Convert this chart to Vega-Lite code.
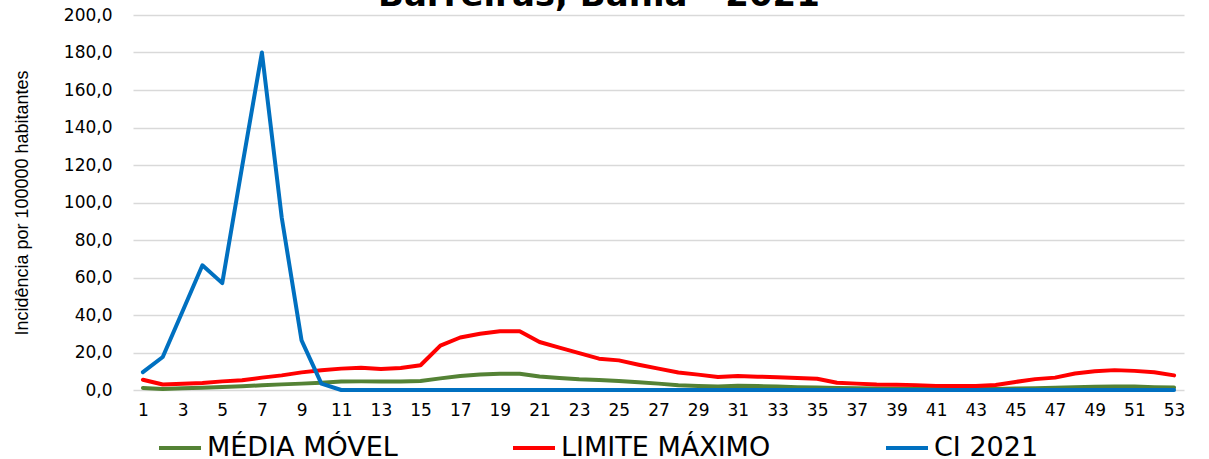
{
  "$schema": "https://vega.github.io/schema/vega-lite/v6.json",
  "width": 1051,
  "height": 375,
  "autosize": {"type": "none"},
  "padding": {"left": 133, "top": 15, "right": 25, "bottom": 69},
  "background": "white",
  "title": {
    "text": "Barreiras, Bahia - 2021",
    "font": "DejaVu Sans",
    "fontSize": 34,
    "fontWeight": "bold",
    "color": "#000000",
    "anchor": "middle",
    "frame": "bounds",
    "baseline": "alphabetic",
    "offset": -34
  },
  "config": {
    "locale": {"number": {"decimal": ",", "thousands": ".", "grouping": [3], "currency": ["R$", ""]}},
    "view": {"stroke": null}
  },
  "data": {
    "values": [
      {"semana": 1, "serie": "MÉDIA MÓVEL", "valor": 1.1},
      {"semana": 2, "serie": "MÉDIA MÓVEL", "valor": 0.5},
      {"semana": 3, "serie": "MÉDIA MÓVEL", "valor": 0.9},
      {"semana": 4, "serie": "MÉDIA MÓVEL", "valor": 1.2},
      {"semana": 5, "serie": "MÉDIA MÓVEL", "valor": 1.6},
      {"semana": 6, "serie": "MÉDIA MÓVEL", "valor": 2.0},
      {"semana": 7, "serie": "MÉDIA MÓVEL", "valor": 2.5},
      {"semana": 8, "serie": "MÉDIA MÓVEL", "valor": 3.0},
      {"semana": 9, "serie": "MÉDIA MÓVEL", "valor": 3.4},
      {"semana": 10, "serie": "MÉDIA MÓVEL", "valor": 3.9},
      {"semana": 11, "serie": "MÉDIA MÓVEL", "valor": 4.5},
      {"semana": 12, "serie": "MÉDIA MÓVEL", "valor": 4.6},
      {"semana": 13, "serie": "MÉDIA MÓVEL", "valor": 4.6},
      {"semana": 14, "serie": "MÉDIA MÓVEL", "valor": 4.6},
      {"semana": 15, "serie": "MÉDIA MÓVEL", "valor": 4.8},
      {"semana": 16, "serie": "MÉDIA MÓVEL", "valor": 6.2},
      {"semana": 17, "serie": "MÉDIA MÓVEL", "valor": 7.5},
      {"semana": 18, "serie": "MÉDIA MÓVEL", "valor": 8.3},
      {"semana": 19, "serie": "MÉDIA MÓVEL", "valor": 8.7},
      {"semana": 20, "serie": "MÉDIA MÓVEL", "valor": 8.7},
      {"semana": 21, "serie": "MÉDIA MÓVEL", "valor": 7.2},
      {"semana": 22, "serie": "MÉDIA MÓVEL", "valor": 6.4},
      {"semana": 23, "serie": "MÉDIA MÓVEL", "valor": 5.7},
      {"semana": 24, "serie": "MÉDIA MÓVEL", "valor": 5.3},
      {"semana": 25, "serie": "MÉDIA MÓVEL", "valor": 4.8},
      {"semana": 26, "serie": "MÉDIA MÓVEL", "valor": 4.1},
      {"semana": 27, "serie": "MÉDIA MÓVEL", "valor": 3.4},
      {"semana": 28, "serie": "MÉDIA MÓVEL", "valor": 2.5},
      {"semana": 29, "serie": "MÉDIA MÓVEL", "valor": 2.1},
      {"semana": 30, "serie": "MÉDIA MÓVEL", "valor": 1.9},
      {"semana": 31, "serie": "MÉDIA MÓVEL", "valor": 2.3},
      {"semana": 32, "serie": "MÉDIA MÓVEL", "valor": 2.1},
      {"semana": 33, "serie": "MÉDIA MÓVEL", "valor": 1.9},
      {"semana": 34, "serie": "MÉDIA MÓVEL", "valor": 1.5},
      {"semana": 35, "serie": "MÉDIA MÓVEL", "valor": 1.3},
      {"semana": 36, "serie": "MÉDIA MÓVEL", "valor": 1.1},
      {"semana": 37, "serie": "MÉDIA MÓVEL", "valor": 0.9},
      {"semana": 38, "serie": "MÉDIA MÓVEL", "valor": 0.8},
      {"semana": 39, "serie": "MÉDIA MÓVEL", "valor": 0.7},
      {"semana": 40, "serie": "MÉDIA MÓVEL", "valor": 0.6},
      {"semana": 41, "serie": "MÉDIA MÓVEL", "valor": 0.5},
      {"semana": 42, "serie": "MÉDIA MÓVEL", "valor": 0.5},
      {"semana": 43, "serie": "MÉDIA MÓVEL", "valor": 0.5},
      {"semana": 44, "serie": "MÉDIA MÓVEL", "valor": 0.6},
      {"semana": 45, "serie": "MÉDIA MÓVEL", "valor": 0.8},
      {"semana": 46, "serie": "MÉDIA MÓVEL", "valor": 1.0},
      {"semana": 47, "serie": "MÉDIA MÓVEL", "valor": 1.2},
      {"semana": 48, "serie": "MÉDIA MÓVEL", "valor": 1.5},
      {"semana": 49, "serie": "MÉDIA MÓVEL", "valor": 1.7},
      {"semana": 50, "serie": "MÉDIA MÓVEL", "valor": 1.9},
      {"semana": 51, "serie": "MÉDIA MÓVEL", "valor": 1.9},
      {"semana": 52, "serie": "MÉDIA MÓVEL", "valor": 1.5},
      {"semana": 53, "serie": "MÉDIA MÓVEL", "valor": 1.3},
      {"semana": 1, "serie": "LIMITE MÁXIMO", "valor": 5.5},
      {"semana": 2, "serie": "LIMITE MÁXIMO", "valor": 2.9},
      {"semana": 3, "serie": "LIMITE MÁXIMO", "valor": 3.3},
      {"semana": 4, "serie": "LIMITE MÁXIMO", "valor": 3.7},
      {"semana": 5, "serie": "LIMITE MÁXIMO", "valor": 4.6},
      {"semana": 6, "serie": "LIMITE MÁXIMO", "valor": 5.2},
      {"semana": 7, "serie": "LIMITE MÁXIMO", "valor": 6.6},
      {"semana": 8, "serie": "LIMITE MÁXIMO", "valor": 7.8},
      {"semana": 9, "serie": "LIMITE MÁXIMO", "valor": 9.4},
      {"semana": 10, "serie": "LIMITE MÁXIMO", "valor": 10.5},
      {"semana": 11, "serie": "LIMITE MÁXIMO", "valor": 11.4},
      {"semana": 12, "serie": "LIMITE MÁXIMO", "valor": 11.9},
      {"semana": 13, "serie": "LIMITE MÁXIMO", "valor": 11.2},
      {"semana": 14, "serie": "LIMITE MÁXIMO", "valor": 11.7},
      {"semana": 15, "serie": "LIMITE MÁXIMO", "valor": 13.2},
      {"semana": 16, "serie": "LIMITE MÁXIMO", "valor": 23.7},
      {"semana": 17, "serie": "LIMITE MÁXIMO", "valor": 28.0},
      {"semana": 18, "serie": "LIMITE MÁXIMO", "valor": 30.0},
      {"semana": 19, "serie": "LIMITE MÁXIMO", "valor": 31.3},
      {"semana": 20, "serie": "LIMITE MÁXIMO", "valor": 31.3},
      {"semana": 21, "serie": "LIMITE MÁXIMO", "valor": 25.6},
      {"semana": 22, "serie": "LIMITE MÁXIMO", "valor": 22.6},
      {"semana": 23, "serie": "LIMITE MÁXIMO", "valor": 19.7},
      {"semana": 24, "serie": "LIMITE MÁXIMO", "valor": 16.7},
      {"semana": 25, "serie": "LIMITE MÁXIMO", "valor": 15.8},
      {"semana": 26, "serie": "LIMITE MÁXIMO", "valor": 13.5},
      {"semana": 27, "serie": "LIMITE MÁXIMO", "valor": 11.4},
      {"semana": 28, "serie": "LIMITE MÁXIMO", "valor": 9.3},
      {"semana": 29, "serie": "LIMITE MÁXIMO", "valor": 8.2},
      {"semana": 30, "serie": "LIMITE MÁXIMO", "valor": 6.9},
      {"semana": 31, "serie": "LIMITE MÁXIMO", "valor": 7.5},
      {"semana": 32, "serie": "LIMITE MÁXIMO", "valor": 7.1},
      {"semana": 33, "serie": "LIMITE MÁXIMO", "valor": 6.8},
      {"semana": 34, "serie": "LIMITE MÁXIMO", "valor": 6.4},
      {"semana": 35, "serie": "LIMITE MÁXIMO", "valor": 6.0},
      {"semana": 36, "serie": "LIMITE MÁXIMO", "valor": 3.9},
      {"semana": 37, "serie": "LIMITE MÁXIMO", "valor": 3.4},
      {"semana": 38, "serie": "LIMITE MÁXIMO", "valor": 2.9},
      {"semana": 39, "serie": "LIMITE MÁXIMO", "valor": 2.8},
      {"semana": 40, "serie": "LIMITE MÁXIMO", "valor": 2.6},
      {"semana": 41, "serie": "LIMITE MÁXIMO", "valor": 2.2},
      {"semana": 42, "serie": "LIMITE MÁXIMO", "valor": 2.1},
      {"semana": 43, "serie": "LIMITE MÁXIMO", "valor": 2.1},
      {"semana": 44, "serie": "LIMITE MÁXIMO", "valor": 2.7},
      {"semana": 45, "serie": "LIMITE MÁXIMO", "valor": 4.3},
      {"semana": 46, "serie": "LIMITE MÁXIMO", "valor": 5.8},
      {"semana": 47, "serie": "LIMITE MÁXIMO", "valor": 6.6},
      {"semana": 48, "serie": "LIMITE MÁXIMO", "valor": 8.8},
      {"semana": 49, "serie": "LIMITE MÁXIMO", "valor": 10.0},
      {"semana": 50, "serie": "LIMITE MÁXIMO", "valor": 10.6},
      {"semana": 51, "serie": "LIMITE MÁXIMO", "valor": 10.2},
      {"semana": 52, "serie": "LIMITE MÁXIMO", "valor": 9.5},
      {"semana": 53, "serie": "LIMITE MÁXIMO", "valor": 7.8},
      {"semana": 1, "serie": "CI 2021", "valor": 9.5},
      {"semana": 2, "serie": "CI 2021", "valor": 17.6},
      {"semana": 3, "serie": "CI 2021", "valor": 42.0},
      {"semana": 4, "serie": "CI 2021", "valor": 66.5},
      {"semana": 5, "serie": "CI 2021", "valor": 57.0},
      {"semana": 6, "serie": "CI 2021", "valor": 119.0},
      {"semana": 7, "serie": "CI 2021", "valor": 180.0},
      {"semana": 8, "serie": "CI 2021", "valor": 92.0},
      {"semana": 9, "serie": "CI 2021", "valor": 26.5},
      {"semana": 10, "serie": "CI 2021", "valor": 3.4},
      {"semana": 11, "serie": "CI 2021", "valor": 0},
      {"semana": 12, "serie": "CI 2021", "valor": 0},
      {"semana": 13, "serie": "CI 2021", "valor": 0},
      {"semana": 14, "serie": "CI 2021", "valor": 0},
      {"semana": 15, "serie": "CI 2021", "valor": 0},
      {"semana": 16, "serie": "CI 2021", "valor": 0},
      {"semana": 17, "serie": "CI 2021", "valor": 0},
      {"semana": 18, "serie": "CI 2021", "valor": 0},
      {"semana": 19, "serie": "CI 2021", "valor": 0},
      {"semana": 20, "serie": "CI 2021", "valor": 0},
      {"semana": 21, "serie": "CI 2021", "valor": 0},
      {"semana": 22, "serie": "CI 2021", "valor": 0},
      {"semana": 23, "serie": "CI 2021", "valor": 0},
      {"semana": 24, "serie": "CI 2021", "valor": 0},
      {"semana": 25, "serie": "CI 2021", "valor": 0},
      {"semana": 26, "serie": "CI 2021", "valor": 0},
      {"semana": 27, "serie": "CI 2021", "valor": 0},
      {"semana": 28, "serie": "CI 2021", "valor": 0},
      {"semana": 29, "serie": "CI 2021", "valor": 0},
      {"semana": 30, "serie": "CI 2021", "valor": 0},
      {"semana": 31, "serie": "CI 2021", "valor": 0},
      {"semana": 32, "serie": "CI 2021", "valor": 0},
      {"semana": 33, "serie": "CI 2021", "valor": 0},
      {"semana": 34, "serie": "CI 2021", "valor": 0},
      {"semana": 35, "serie": "CI 2021", "valor": 0},
      {"semana": 36, "serie": "CI 2021", "valor": 0},
      {"semana": 37, "serie": "CI 2021", "valor": 0},
      {"semana": 38, "serie": "CI 2021", "valor": 0},
      {"semana": 39, "serie": "CI 2021", "valor": 0},
      {"semana": 40, "serie": "CI 2021", "valor": 0},
      {"semana": 41, "serie": "CI 2021", "valor": 0},
      {"semana": 42, "serie": "CI 2021", "valor": 0},
      {"semana": 43, "serie": "CI 2021", "valor": 0},
      {"semana": 44, "serie": "CI 2021", "valor": 0},
      {"semana": 45, "serie": "CI 2021", "valor": 0},
      {"semana": 46, "serie": "CI 2021", "valor": 0},
      {"semana": 47, "serie": "CI 2021", "valor": 0},
      {"semana": 48, "serie": "CI 2021", "valor": 0},
      {"semana": 49, "serie": "CI 2021", "valor": 0},
      {"semana": 50, "serie": "CI 2021", "valor": 0},
      {"semana": 51, "serie": "CI 2021", "valor": 0},
      {"semana": 52, "serie": "CI 2021", "valor": 0},
      {"semana": 53, "serie": "CI 2021", "valor": 0}
    ]
  },
  "mark": {"type": "line", "strokeWidth": 4, "strokeJoin": "round", "strokeCap": "round"},
  "encoding": {
    "x": {
      "field": "semana",
      "type": "quantitative",
      "scale": {"domain": [0.5, 53.5], "nice": false, "zero": false},
      "axis": {
        "title": null,
        "values": [1, 3, 5, 7, 9, 11, 13, 15, 17, 19, 21, 23, 25, 27, 29, 31, 33, 35, 37, 39, 41, 43, 45, 47, 49, 51, 53],
        "grid": false,
        "ticks": false,
        "domain": false,
        "labelFont": "DejaVu Sans",
        "labelFontSize": 17,
        "labelColor": "#000000",
        "labelPadding": 12,
        "labelFlush": false,
        "labelOverlap": false
      }
    },
    "y": {
      "field": "valor",
      "type": "quantitative",
      "scale": {"domain": [0, 200], "nice": false},
      "axis": {
        "title": "Incidência por 100000 habitantes",
        "titleFont": "Liberation Sans",
        "titleFontSize": 18,
        "titleFontWeight": "normal",
        "titleColor": "#000000",
        "titleX": -111,
        "titleBaseline": "middle",
        "values": [0, 20, 40, 60, 80, 100, 120, 140, 160, 180, 200],
        "format": ".1f",
        "grid": true,
        "gridColor": "#d9d9d9",
        "gridWidth": 1.5,
        "ticks": false,
        "domain": false,
        "labelFont": "DejaVu Sans",
        "labelFontSize": 17,
        "labelColor": "#000000",
        "labelPadding": 21
      }
    },
    "color": {
      "field": "serie",
      "type": "nominal",
      "scale": {
        "domain": ["MÉDIA MÓVEL", "LIMITE MÁXIMO", "CI 2021"],
        "range": ["#548235", "#ff0000", "#0070c0"]
      },
      "legend": {
        "title": null,
        "orient": "none",
        "direction": "horizontal",
        "legendX": 24,
        "legendY": 410,
        "symbolType": "stroke",
        "symbolSize": 1764,
        "symbolStrokeWidth": 4,
        "labelFont": "DejaVu Sans",
        "labelFontSize": 27,
        "labelColor": "#000000",
        "labelOffset": 4,
        "labelLimit": 400,
        "columnPadding": 107
      }
    }
  }
}
